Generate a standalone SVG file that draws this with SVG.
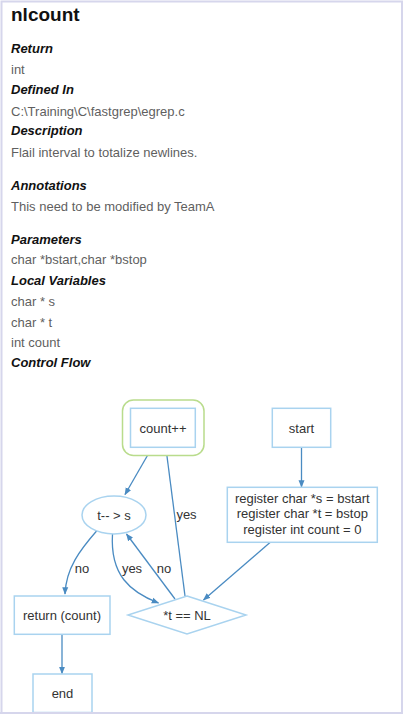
<svg xmlns="http://www.w3.org/2000/svg" width="404" height="718" viewBox="0 0 404 718">
<style>
.title{font-family:"Liberation Sans",Arial,sans-serif;font-size:19px;font-weight:bold;fill:#111}
.h{font-family:"Liberation Sans",Arial,sans-serif;font-size:13px;font-weight:bold;font-style:italic;fill:#111}
.t{font-family:"Liberation Sans",Arial,sans-serif;font-size:13px;fill:#5f5f5f}
.nt{font-family:"Liberation Sans",Arial,sans-serif;font-size:13px;fill:#333;text-anchor:middle}
.lbl{font-family:"Liberation Sans",Arial,sans-serif;font-size:13px;fill:#333;text-anchor:middle}
.node{fill:#fff;stroke:#a9d3ef;stroke-width:1.5}
.edge{fill:none;stroke:#4a8bc2;stroke-width:1.3}
</style>
<defs>
<marker id="arr" viewBox="0 0 10 10" refX="9" refY="5" markerWidth="7.5" markerHeight="7.5" orient="auto" markerUnits="userSpaceOnUse">
<path d="M0,1 L10,5 L0,9 z" fill="#4a8bc2"/>
</marker>
</defs>
<rect x="0" y="0" width="404" height="718" fill="#fff"/>
<rect x="1.5" y="1.5" width="400.5" height="711.5" fill="#fff" stroke="#d6d6ec" stroke-width="2"/>

<text class="title" x="11" y="21">nlcount</text>
<text class="h" x="11" y="53">Return</text>
<text class="t" x="11" y="74">int</text>
<text class="h" x="11" y="94">Defined In</text>
<text class="t" x="11" y="115.5">C:\Training\C\fastgrep\egrep.c</text>
<text class="h" x="11" y="135">Description</text>
<text class="t" x="11" y="156.5">Flail interval to totalize newlines.</text>
<text class="h" x="11" y="190">Annotations</text>
<text class="t" x="11" y="210.5">This need to be modified by TeamA</text>
<text class="h" x="11" y="244">Parameters</text>
<text class="t" x="11" y="264">char *bstart,char *bstop</text>
<text class="h" x="11" y="285">Local Variables</text>
<text class="t" x="11" y="306">char * s</text>
<text class="t" x="11" y="326.5">char * t</text>
<text class="t" x="11" y="347">int count</text>
<text class="h" x="11" y="367">Control Flow</text>

<g id="connectors">
<path class="edge" d="M151.5,448.5 L125,494.5" marker-end="url(#arr)"/>
<path class="edge" d="M185,596 L166,448.5" marker-end="url(#arr)"/>
<path class="edge" d="M301.5,447.5 L301.5,487" marker-end="url(#arr)"/>
<path class="edge" d="M270,542.5 L203.5,600" marker-end="url(#arr)"/>
<path class="edge" d="M112.5,534 C110,575 130,592 158.5,603" marker-end="url(#arr)"/>
<path class="edge" d="M175,599 L126.5,534" marker-end="url(#arr)"/>
<path class="edge" d="M97,530.5 C80,550 66,568 65,594" marker-end="url(#arr)"/>
<path class="edge" d="M62,634.5 L62,673.5" marker-end="url(#arr)"/>
<text class="lbl" x="186.5" y="518.5">yes</text>
<text class="lbl" x="132" y="573">yes</text>
<text class="lbl" x="164" y="573">no</text>
<text class="lbl" x="82" y="573">no</text>
</g>

<g id="node-count">
<rect x="122.5" y="400" width="81.5" height="55.5" rx="11" fill="#fff" stroke="#b9dc8c" stroke-width="1.5"/>
<rect class="node" x="130.5" y="408.3" width="64.8" height="39"/>
<text class="nt" x="163" y="432.5">count++</text>
</g>
<g id="node-start">
<rect class="node" x="272.3" y="408.3" width="58.4" height="39"/>
<text class="nt" x="301.5" y="432.5">start</text>
</g>
<g id="node-register">
<rect class="node" x="227.3" y="487.3" width="150" height="55"/>
<text class="nt" x="302.3" y="502.8">register char *s = bstart</text>
<text class="nt" x="302.3" y="518.3">register char *t = bstop</text>
<text class="nt" x="302.3" y="533.8">register int count = 0</text>
</g>
<g id="node-loop">
<ellipse class="node" cx="114" cy="515" rx="32" ry="19"/>
<text class="nt" x="114" y="519.5">t-- &gt; s</text>
</g>
<g id="node-cond">
<polygon class="node" points="187,596 246,615 187,634 128,615"/>
<text class="nt" x="187" y="619.5">*t == NL</text>
</g>
<g id="node-return">
<rect class="node" x="14.3" y="596" width="95.7" height="38.3"/>
<text class="nt" x="62" y="619.5">return (count)</text>
</g>
<g id="node-end">
<rect class="node" x="33" y="674" width="59" height="38.5"/>
<text class="nt" x="62.5" y="697.5">end</text>
</g>
<line x1="0" y1="713" x2="403" y2="713" stroke="#d6d6ec" stroke-width="2"/>
</svg>
